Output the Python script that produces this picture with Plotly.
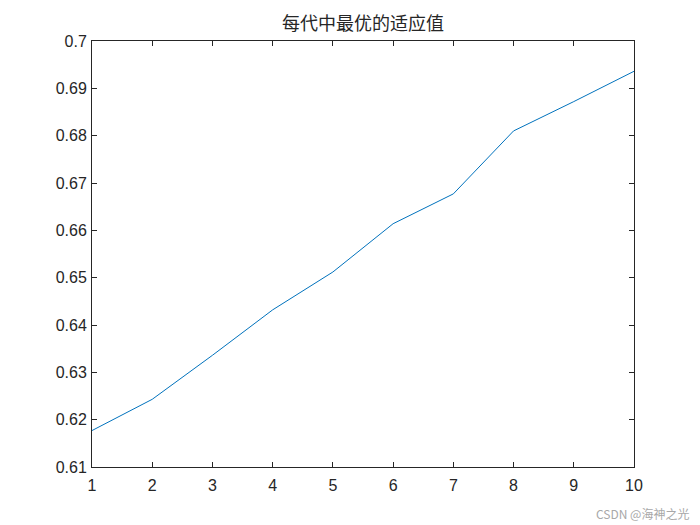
import plotly.graph_objects as go

generation = [1, 2, 3, 4, 5, 6, 7, 8, 9, 10]
best_fitness = [0.6177, 0.6243, 0.6336, 0.6432, 0.6512, 0.6614, 0.6677, 0.6810, 0.6872, 0.6936]
y_ticks = [0.61, 0.62, 0.63, 0.64, 0.65, 0.66, 0.67, 0.68, 0.69, 0.7]
y_labels = ['0.61', '0.62', '0.63', '0.64', '0.65', '0.66', '0.67', '0.68', '0.69', '0.7']

fig = go.Figure()
fig.add_trace(go.Scatter(x=generation, y=best_fitness, mode='lines',
                         line=dict(color='#0072BD', width=1), showlegend=False))

axis_style = dict(showline=True, linecolor='#262626', linewidth=1, mirror='ticks',
                  ticks='inside', ticklen=5, tickcolor='#262626', showgrid=False, zeroline=False,
                  tickfont=dict(family='Liberation Sans, Arial', size=16, color='#262626'))

fig.update_xaxes(range=[1, 10], tickvals=generation, ticklabelstandoff=4, **axis_style)
fig.update_yaxes(range=[0.61, 0.7], tickvals=y_ticks, ticktext=y_labels, ticklabelstandoff=1, **axis_style)

fig.update_layout(
    width=700, height=525,
    margin=dict(l=84, r=74, t=33, b=66),
    paper_bgcolor='white', plot_bgcolor='white',
    title=dict(text='每代中最优的适应值', x=355 / 700, xanchor='center', y=1 - 16 / 525, yanchor='middle',
               font=dict(family='Noto Sans CJK SC', size=18, color='#262626')),
)
fig.add_annotation(text='CSDN @海神之光', xref='paper', yref='paper', x=1.105, y=-0.108,
                   xanchor='right', yanchor='middle', showarrow=False,
                   font=dict(family='Noto Sans CJK SC', size=12, color='#a8a8a8'))

fig.write_html('out.html')
